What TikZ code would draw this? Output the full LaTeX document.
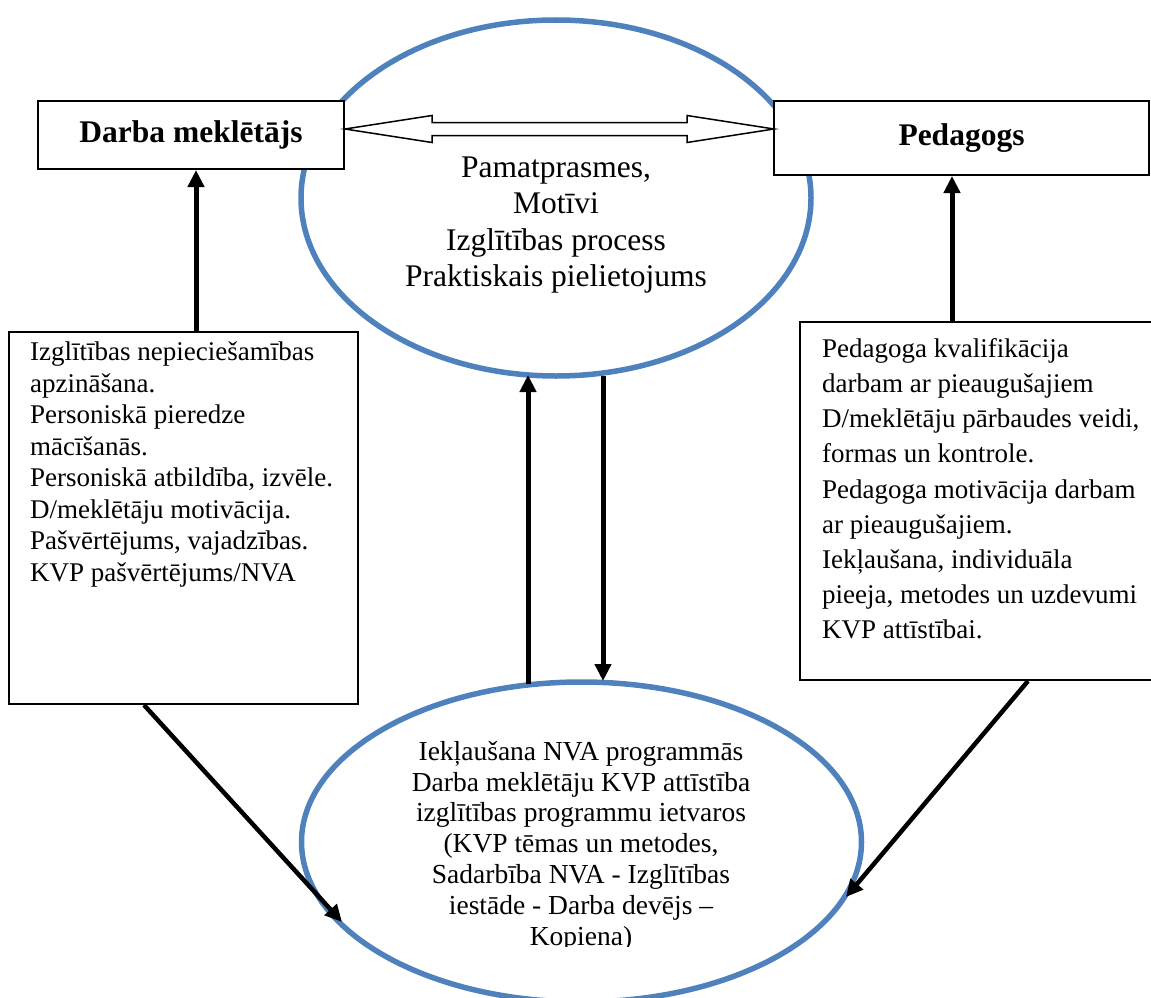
\documentclass[tikz,border=0pt]{standalone}
\usepackage{fontspec}
\setmainfont{Liberation Serif}
\usetikzlibrary{shapes.geometric,arrows.meta,calc}
\definecolor{ovalblue}{HTML}{4F81BD}
\begin{document}
\begin{tikzpicture}[x=1pt,y=-1pt,
  titlebox/.style={draw,line width=2pt,inner sep=0pt,font=\fontsize{31.5}{36}\selectfont\bfseries},
  textbox/.style={draw,line width=2pt,inner sep=0pt},
  oval/.style={draw=ovalblue,line width=5.5pt,ellipse,inner sep=0pt},
  bodytext/.style={inner sep=0pt,align=left,font=\fontsize{27}{31.5}\selectfont},
  thickarrow/.style={line width=5pt,-{Triangle[length=17pt,width=16pt]}},
  hollowarrow/.style={draw,line width=1.5pt,fill=white,line join=miter}
]
\useasboundingbox (0,0) rectangle (1151,998);

% ovals
\node[oval,minimum width=510pt,minimum height=356pt] (topoval) at (556,198) {};
\node[oval,minimum width=560pt,minimum height=320pt] (botoval) at (581.5,842) {};

% boxes
\node[titlebox,minimum width=306pt,minimum height=68pt,fill=white] (seeker) at (191,135) {Darba meklētājs};
\node[titlebox,minimum width=375pt,minimum height=74pt,fill=white] (teacher) at (961.5,138) {Pedagogs};
\node[textbox,minimum width=349pt,minimum height=372pt] (lbox) at (183.5,518) {};
\node[textbox,minimum width=353pt,minimum height=358pt] (rbox) at (976.5,501) {};

% texts
\node[inner sep=0pt,align=center,font=\fontsize{31.5}{36.5}\selectfont] (toptext) at (556,225)
  {Pamatprasmes,\\Motīvi\\Izglītības process\\Praktiskais pielietojums};

\node[bodytext,anchor=north west] (ltext) at (30,342)
  {Izglītības nepieciešamības\\apzināšana.\\Personiskā pieredze\\mācīšanās.\\Personiskā atbildība, izvēle.\\D/meklētāju motivācija.\\Pašvērtējums, vajadzības.\\KVP pašvērtējums/NVA};

\node[bodytext,anchor=north west,font=\fontsize{27}{35.2}\selectfont] (rtext) at (822,338)
  {Pedagoga kvalifikācija\\darbam ar pieaugušajiem\\D/meklētāju pārbaudes veidi,\\formas un kontrole.\\Pedagoga motivācija darbam\\ar pieaugušajiem.\\Iekļaušana, individuāla\\pieeja, metodes un uzdevumi\\KVP attīstībai.};

\begin{scope}
  \clip (0,0) rectangle (1151,946);
  \node[inner sep=0pt,align=center,font=\fontsize{27.5}{30.8}\selectfont] (bottext) at (581,846)
    {Iekļaušana NVA programmās\\Darba meklētāju KVP attīstība\\izglītības programmu ietvaros\\(KVP tēmas un metodes,\\Sadarbība NVA - Izglītības\\iestāde - Darba devējs –\\Kopiena)};
\end{scope}

% double hollow arrow between the two title boxes
\coordinate (dl) at ($(seeker.east)+(0,-6)$);
\coordinate (dr) at ($(teacher.west)+(1,-9)$);
\path[hollowarrow] (dl) -- ($(dl)+(87,-13.5)$) -- ($(dl)+(87,-6.5)$)
  -- ($(dr)+(-87,-6.5)$) -- ($(dr)+(-87,-13.5)$) -- (dr)
  -- ($(dr)+(-87,13.5)$) -- ($(dr)+(-87,6.5)$)
  -- ($(dl)+(87,6.5)$) -- ($(dl)+(87,13.5)$) -- cycle;

% vertical connectors
\coordinate (lup) at ($(lbox.north)+(12.5,0)$);
\coordinate (rup) at ($(rbox.north)+(-24.5,0)$);
\draw[thickarrow] (lup) -- (lup |- seeker.south);
\draw[thickarrow] (rup) -- (rup |- teacher.south);

\coordinate (mu1) at (528,684);
\coordinate (mu2) at (528,375);
\coordinate (md1) at (603,376);
\coordinate (md2) at (603,681);
\draw[thickarrow] (mu1) -- (mu2);
\draw[thickarrow] (md1) -- (md2);

% diagonal connectors
\coordinate (ld1) at ($(lbox.south west)+(136,0)$);
\coordinate (ld2) at (342,922);
\coordinate (rd1) at ($(rbox.south west)+(229,0)$);
\coordinate (rd2) at (846,897);
\draw[thickarrow,line width=4.5pt] (ld1) -- (ld2);
\draw[thickarrow,line width=4.5pt] (rd1) -- (rd2);
\end{tikzpicture}
\end{document}
